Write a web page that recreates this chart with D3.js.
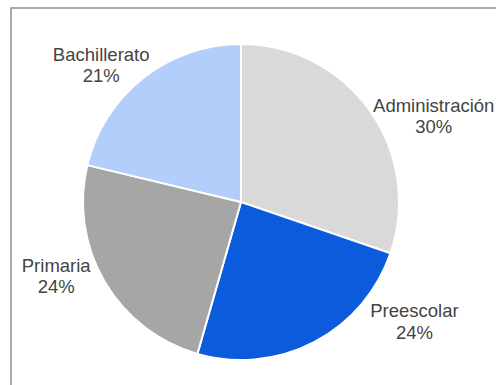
<!DOCTYPE html>
<html>
<head>
<meta charset="utf-8">
<script src="https://cdn.jsdelivr.net/npm/d3@7"></script>
<style>
  body { margin: 0; background: #fff; }
  svg { display: block; }
</style>
</head>
<body>
<script>
// data (share of total, %)
const categories = ['Administración', 'Preescolar', 'Primaria', 'Bachillerato'];
const values = [30.25, 24.2, 24.3, 21.25];
const colors = ['#d9d9d9', '#0b5bdc', '#a6a6a6', '#b3cefa'];

// label nudges (px) from the label-arc centroid, mimics the original placement
const labelNudge = [[30, 26], [81, -62], [-12, -31], [-16, 16]];

const width = 496, height = 385;
const cx = 241, cy = 202, radius = 158;

const svg = d3.select('body').append('svg')
  .attr('width', width)
  .attr('height', height);

// frame (right and bottom edges fall outside the window)
svg.append('rect')
  .attr('x', 11).attr('y', 8)
  .attr('width', width + 20).attr('height', height + 20)
  .attr('fill', 'none')
  .attr('stroke', '#8f8f8f')
  .attr('stroke-width', 1.5);

const data = categories.map((c, i) => ({ name: c, value: values[i], color: colors[i] }));
const total = d3.sum(values);

const pie = d3.pie().sort(null).value(d => d.value);
const arc = d3.arc().innerRadius(0).outerRadius(radius);
const labelArc = d3.arc().innerRadius(200).outerRadius(200);

const g = svg.append('g').attr('transform', 'translate(' + cx + ',' + cy + ')');
const arcs = pie(data);

g.selectAll('path')
  .data(arcs)
  .enter()
  .append('path')
  .attr('d', arc)
  .attr('fill', d => d.data.color)
  .attr('stroke', '#fff')
  .attr('stroke-width', 2);

const labels = g.selectAll('text')
  .data(arcs)
  .enter()
  .append('text')
  .attr('transform', (d, i) => {
    const p = labelArc.centroid(d);
    return 'translate(' + (p[0] + labelNudge[i][0]) + ',' + (p[1] + labelNudge[i][1]) + ')';
  })
  .attr('text-anchor', 'middle')
  .style('font-family', '"Liberation Sans", Arial, sans-serif')
  .style('font-size', '18.5px')
  .attr('fill', '#444');

labels.append('tspan')
  .attr('x', 0)
  .text(d => d.data.name);

labels.append('tspan')
  .attr('x', 0)
  .attr('dy', 21.5)
  .text(d => Math.round(d.data.value / total * 100) + '%');
</script>
</body>
</html>
